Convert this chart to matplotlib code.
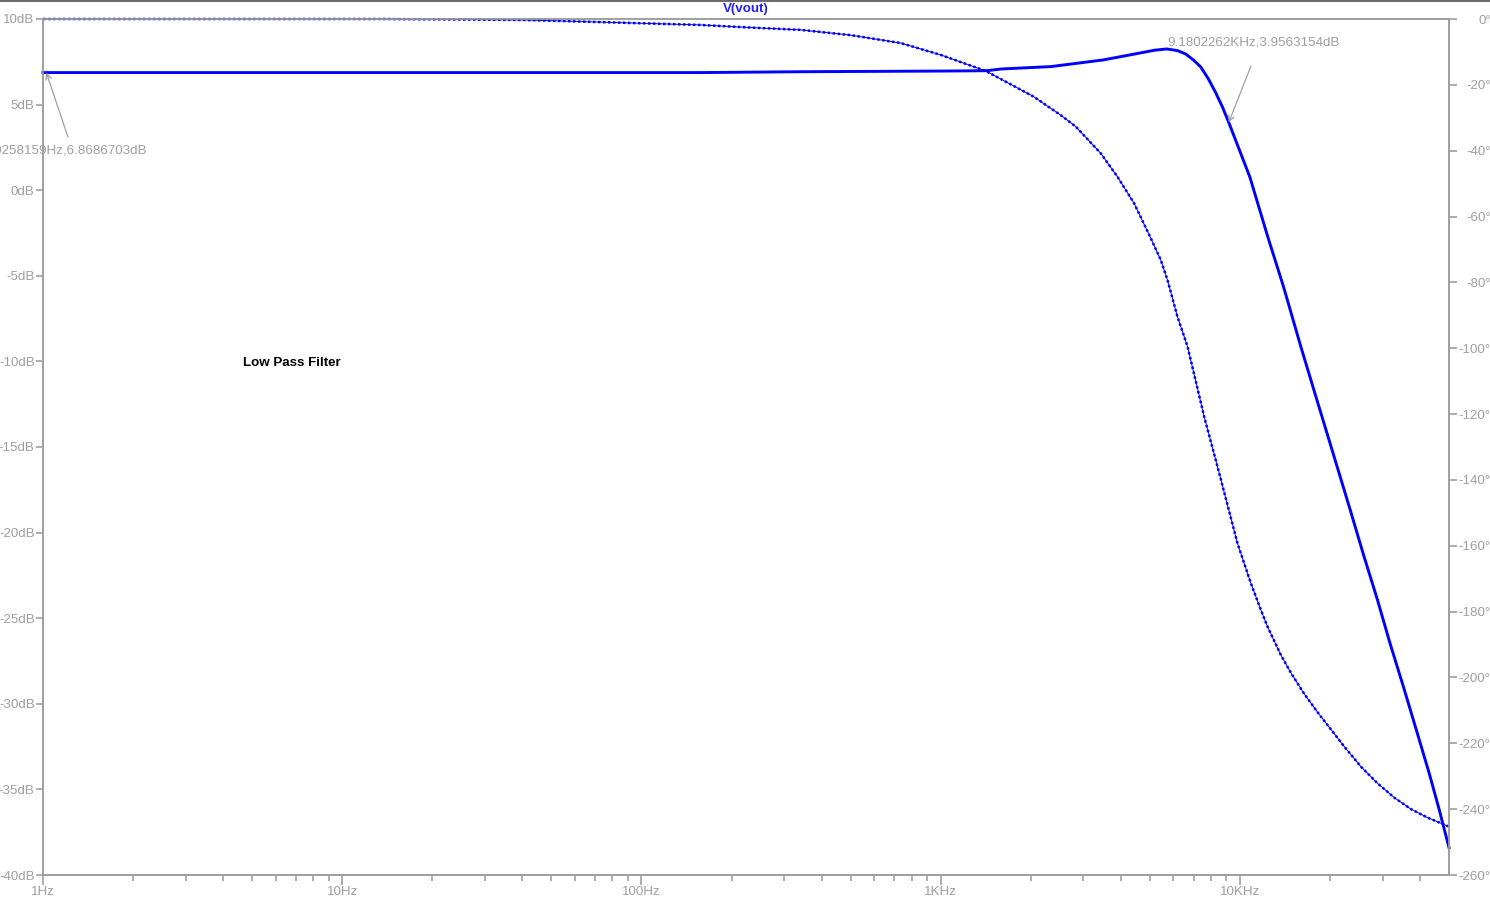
import numpy as np
import matplotlib
matplotlib.use('Agg')
import matplotlib.pyplot as plt
from matplotlib.lines import Line2D
from matplotlib.ticker import FixedLocator, FixedFormatter, NullFormatter

# gain curve (Hz, dB)
mag_freq = [1, 10, 100, 157, 340, 1023, 1422, 1593, 2336, 3495, 4688, 5200, 5700, 6200,
            6600, 7000, 7400, 7850, 8300, 8750, 9180, 10800, 12400, 14000, 16000, 18200,
            20600, 23400, 25900, 28800, 31800, 35200, 39000, 43000, 46400, 50000]
mag_db = [6.87, 6.87, 6.87, 6.87, 6.92, 6.96, 6.98, 7.08, 7.22, 7.61, 8.03, 8.18, 8.25, 8.15,
          7.95, 7.6, 7.2, 6.5, 5.7, 4.85, 3.96, 0.77, -2.73, -5.65, -9.16, -12.4,
          -15.5, -18.7, -21.3, -23.9, -26.5, -29.0, -31.6, -34.1, -36.2, -38.4]

# phase curve (Hz, degrees)
ph_freq = [1, 13.7, 41, 157, 231, 340, 500, 735, 1000, 1416, 2047, 2519, 2830, 3428, 3898,
           4433, 5039, 5442, 5730, 6186, 6686, 7599, 8422, 9822, 10885, 11756, 12376,
           13716, 14811, 16414, 18194, 20157, 22331, 25393, 28877, 32818, 37318, 42445,
           50000]
ph_deg = [0, 0, -0.3, -1.8, -2.6, -3.3, -4.9, -7.3, -10.9, -15.8, -23.6, -29.2, -32.7,
          -40.8, -47.9, -56.0, -66.6, -73.2, -79.3, -90.4, -99.5, -120.8, -136.0, -159.3,
          -171.4, -179.5, -184.6, -193.2, -198.6, -205.0, -210.6, -215.8, -221.0, -227.1,
          -232.2, -236.5, -240.0, -242.6, -245.3]

x_ticks = [1, 10, 100, 1000, 10000]
x_labels = ['1Hz', '10Hz', '100Hz', '1KHz', '10KHz']
db_ticks = [10, 5, 0, -5, -10, -15, -20, -25, -30, -35, -40]
deg_ticks = list(range(0, -261, -20))

cursor1 = (1.0258159, 6.8686703)
cursor2 = (9180.2262, 3.9563154)

GRAY = '#9f9f9f'
BLUE = '#0000ff'
FS = 9.6

plt.rcParams['font.family'] = ['Liberation Sans', 'DejaVu Sans']

fig = plt.figure(figsize=(14.9, 9.0), dpi=100)
ax = fig.add_axes([43 / 1490, 1 - 875 / 900, 1406 / 1490, 856 / 900])
ax2 = ax.twinx()

ax.set_xscale('log')
ax.set_xlim(1, 50000)
ax.set_ylim(-40, 10)
ax2.set_ylim(-260, 0)

for a in (ax, ax2):
    for s in a.spines.values():
        s.set_color(GRAY)
        s.set_linewidth(1.2)

ax.xaxis.set_major_locator(FixedLocator(x_ticks))
ax.xaxis.set_major_formatter(FixedFormatter(x_labels))
minors = [m * d for d in x_ticks for m in range(2, 10)]
ax.xaxis.set_minor_locator(FixedLocator([v for v in minors if v < 50000]))
ax.xaxis.set_minor_formatter(NullFormatter())
ax.tick_params(axis='x', which='major', length=7, color=GRAY, labelcolor=GRAY,
               labelsize=FS, pad=1, width=1.2)
ax.tick_params(axis='x', which='minor', length=4, color=GRAY, width=1.2)

ax.set_yticks(db_ticks)
ax.set_yticklabels(['%ddB' % v for v in db_ticks])
ax.tick_params(axis='y', length=5, color=GRAY, labelcolor=GRAY, labelsize=FS, pad=1,
               width=1.2)

ax2.set_yticks(deg_ticks)
ax2.set_yticklabels(['%d\u00b0' % v for v in deg_ticks])
ax2.tick_params(axis='y', length=6, color=GRAY, labelcolor=GRAY, labelsize=FS, pad=24,
                width=1.2)
for t in ax2.get_yticklabels():
    t.set_horizontalalignment('right')

# gain: thick solid trace
ax.plot(mag_freq, mag_db, color=BLUE, lw=2.1, clip_on=False, zorder=3,
        solid_joinstyle='round')

# phase: thin trace with dotted x-marker look
ax2.plot(ph_freq, ph_deg, color=BLUE, lw=0.7, clip_on=False)
ax2.plot(ph_freq, ph_deg, color=BLUE, lw=1.8, ls=(0, (1, 1)), clip_on=False)

# cursors
ax.annotate('', xy=cursor1, xytext=(1.212, 3.1),
            arrowprops=dict(arrowstyle='->', color=GRAY, lw=0.9, shrinkA=0, shrinkB=0))
ax.text(2.23, 2.29, '%.7fHz,%.7fdB' % cursor1, color=GRAY, fontsize=FS,
        ha='right', va='center')
ax.annotate('', xy=cursor2, xytext=(10890, 7.25),
            arrowprops=dict(arrowstyle='->', color=GRAY, lw=0.9, shrinkA=0, shrinkB=0))
ax.text(5741, 8.6, '%.7fKHz,%.7fdB' % (cursor2[0] / 1000, cursor2[1]), color=GRAY,
        fontsize=FS, ha='left', va='center')

ax.text(4.67, -10.1, 'Low Pass Filter', color='black', fontsize=FS, fontweight='bold',
        ha='left', va='center')

fig.text(746 / 1490, 1 - 9 / 900, 'V(vout)', color='#2020ff', fontsize=FS,
         fontweight='bold', ha='center', va='center')

fig.add_artist(Line2D([0, 1], [1 - 0.8 / 900, 1 - 0.8 / 900], transform=fig.transFigure,
                      color='#6a6a6a', lw=1.5))

fig.savefig('out.png', dpi=100, facecolor='white')
